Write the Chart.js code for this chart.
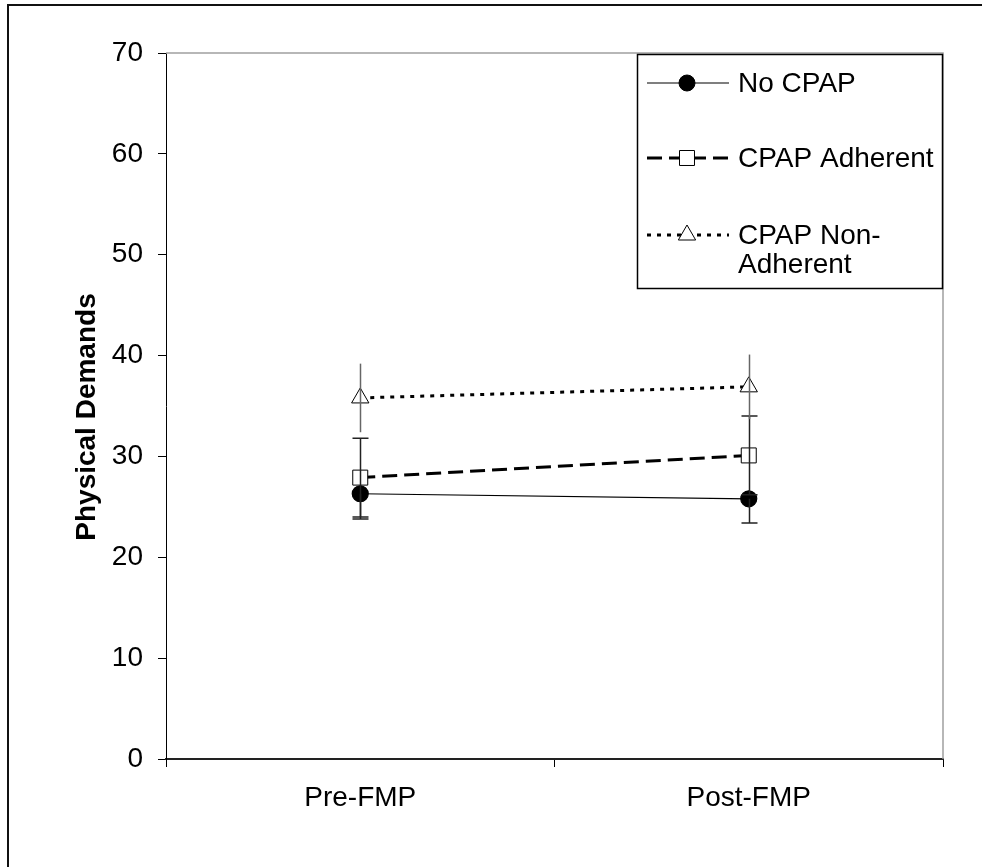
<!DOCTYPE html>
<html>
<head>
<meta charset="utf-8">
<script src="https://cdn.jsdelivr.net/npm/chart.js@4.4.0/dist/chart.umd.min.js"></script>
<style>
    html, body { margin: 0; padding: 0; background: #fff; }
    #contenedor { position: relative; width: 982px; height: 867px; overflow: hidden; }
    #marco { position: absolute; left: 7px; top: 4px; width: 1000px; height: 900px;
             border-left: 2px solid #111; border-top: 2px solid #111; pointer-events: none; }
</style>
</head>
<body>
<div id="contenedor">
    <canvas id="grafico"></canvas>
    <div id="marco"></div>
</div>
<script>
// Datos
const categorias = ['Pre-FMP', 'Post-FMP'];
const nombresSeries = ['No CPAP', 'CPAP Adherent', 'CPAP Non-Adherent'];
const noCpap = [26.3, 25.8];
const cpapAdherente = [27.9, 30.1];
const cpapNoAdherente = [35.8, 36.9];
const errorNoCpap = [2.5, 2.4];
const errorAdherente = [3.9, 3.9];
const errorNoAdherente = [3.4, 3.2];
const ticksY = [0, 10, 20, 30, 40, 50, 60, 70];
const etiquetasLeyenda = [['No CPAP'], ['CPAP Adherent'], ['CPAP Non-', 'Adherent']];
const tituloY = 'Physical Demands';

const fuente = "'Liberation Sans', Arial, sans-serif";
Chart.defaults.font.family = fuente;
Chart.defaults.color = '#000';

const errores = [errorNoCpap, errorAdherente, errorNoAdherente];
// No CPAP solo muestra la barra hacia abajo
const estiloError = [
    { color: '#222', cap: 8, arriba: false, abajo: true },
    { color: '#222', cap: 8, arriba: true, abajo: true },
    { color: '#666', cap: 0, arriba: true, abajo: true }
];

// Dibuja un marcador simple (círculo, cuadrado o triángulo)
const dibujarMarcador = (ctx, estilo, x, y, r, relleno) => {
    ctx.save();
    ctx.beginPath();
    if (estilo === 'circle') {
        ctx.arc(x, y, r, 0, Math.PI * 2);
    } else if (estilo === 'rect') {
        const s = r * Math.SQRT1_2;
        ctx.rect(x - s, y - s, 2 * s, 2 * s);
    } else {
        ctx.moveTo(x, y - r);
        ctx.lineTo(x + r * 0.866, y + r * 0.5);
        ctx.lineTo(x - r * 0.866, y + r * 0.5);
        ctx.closePath();
    }
    ctx.fillStyle = relleno;
    ctx.fill();
    ctx.lineWidth = 1;
    ctx.strokeStyle = '#000';
    ctx.setLineDash([]);
    ctx.stroke();
    ctx.restore();
};

// Barras de error
const pluginErrores = {
    id: 'barrasError',
    afterDatasetsDraw(chart) {
        const ctx = chart.ctx;
        const escalaY = chart.scales.y;
        chart.data.datasets.forEach((ds, i) => {
            const meta = chart.getDatasetMeta(i);
            const estilo = estiloError[i];
            meta.data.forEach((punto, j) => {
                const v = ds.data[j];
                const e = errores[i][j];
                const x = Math.round(punto.x) + 0.5;
                const yCentro = escalaY.getPixelForValue(v);
                const yArriba = estilo.arriba ? escalaY.getPixelForValue(v + e) : yCentro;
                const yAbajo = estilo.abajo ? escalaY.getPixelForValue(v - e) : yCentro;
                ctx.save();
                ctx.strokeStyle = estilo.color;
                ctx.lineWidth = 1.5;
                ctx.beginPath();
                ctx.moveTo(x, yArriba);
                ctx.lineTo(x, yAbajo);
                if (estilo.cap > 0) {
                    if (estilo.arriba) {
                        ctx.moveTo(x - estilo.cap, yArriba);
                        ctx.lineTo(x + estilo.cap, yArriba);
                    }
                    if (estilo.abajo) {
                        ctx.moveTo(x - estilo.cap, yAbajo);
                        ctx.lineTo(x + estilo.cap, yAbajo);
                    }
                }
                ctx.stroke();
                ctx.restore();
            });
        });
    }
};

// Borde gris del área de trazado, título del eje Y y leyenda
const pluginDecoracion = {
    id: 'decoracion',
    beforeDatasetsDraw(chart) {
        const { ctx, chartArea } = chart;
        ctx.save();
        ctx.strokeStyle = '#a0a0a0';
        ctx.lineWidth = 1.5;
        ctx.beginPath();
        ctx.moveTo(chartArea.left, chartArea.top);
        ctx.lineTo(chartArea.right, chartArea.top);
        ctx.lineTo(chartArea.right, chartArea.bottom);
        ctx.stroke();
        ctx.restore();
    },
    afterDraw(chart) {
        const ctx = chart.ctx;
        // título eje Y
        ctx.save();
        ctx.translate(87, 417);
        ctx.rotate(-Math.PI / 2);
        ctx.font = 'bold 28px ' + fuente;
        ctx.fillStyle = '#000';
        ctx.textAlign = 'center';
        ctx.textBaseline = 'middle';
        ctx.fillText(tituloY, 0, 0);
        ctx.restore();

        // leyenda
        ctx.save();
        ctx.fillStyle = '#fff';
        ctx.fillRect(637, 54, 305, 234);
        ctx.strokeStyle = '#000';
        ctx.lineWidth = 1.5;
        ctx.strokeRect(637.5, 54.5, 305, 234);
        const filas = [83, 158, 235];
        ctx.font = '28px ' + fuente;
        ctx.textBaseline = 'middle';
        ctx.textAlign = 'left';
        chart.data.datasets.forEach((ds, i) => {
            const y = filas[i];
            ctx.save();
            ctx.strokeStyle = ds.borderColor;
            ctx.lineWidth = ds.borderWidth;
            ctx.setLineDash(ds.borderDash || []);
            ctx.beginPath();
            ctx.moveTo(647, y);
            ctx.lineTo(729, y);
            ctx.stroke();
            ctx.restore();
            dibujarMarcador(ctx, ds.pointStyle, 687, y, ds.pointRadius, ds.pointBackgroundColor);
            ctx.fillStyle = '#000';
            etiquetasLeyenda[i].forEach((linea, k) => {
                ctx.fillText(linea, 738, y + 1 + k * 29);
            });
        });
        ctx.restore();
    }
};

const grafico = new Chart(document.getElementById('grafico').getContext('2d'), {
    type: 'line',
    data: {
        labels: categorias,
        datasets: [
            {
                label: nombresSeries[0],
                data: noCpap,
                borderColor: '#000',
                borderWidth: 1.2,
                pointStyle: 'circle',
                pointRadius: 8,
                pointBackgroundColor: '#000',
                pointBorderColor: '#000',
                tension: 0
            },
            {
                label: nombresSeries[1],
                data: cpapAdherente,
                borderColor: '#000',
                borderWidth: 3,
                borderDash: [15, 7],
                pointStyle: 'rect',
                pointRadius: 10.6,
                pointBackgroundColor: '#fff',
                pointBorderColor: '#000',
                pointBorderWidth: 1,
                tension: 0
            },
            {
                label: nombresSeries[2],
                data: cpapNoAdherente,
                borderColor: '#000',
                borderWidth: 3,
                borderDash: [4, 6],
                pointStyle: 'triangle',
                pointRadius: 10,
                pointBackgroundColor: '#fff',
                pointBorderColor: '#000',
                pointBorderWidth: 1,
                tension: 0
            }
        ]
    },
    options: {
        responsive: true,
        maintainAspectRatio: false,
        animation: false,
        layout: { padding: { top: 53, right: 39, bottom: 0, left: 0 } },
        plugins: {
            legend: { display: false },
            tooltip: { enabled: false }
        },
        scales: {
            x: {
                type: 'category',
                offset: true,
                afterFit: (escala) => { escala.height = 108; },
                border: { display: true, color: '#222', width: 2 },
                grid: { offset: true, drawOnChartArea: false, drawTicks: true, tickLength: 8, color: '#000' },
                ticks: { font: { size: 28 }, color: '#000', padding: 14, maxRotation: 0 }
            },
            y: {
                min: 0,
                max: 70,
                afterFit: (escala) => { escala.width = 166; },
                afterBuildTicks: (escala) => { escala.ticks = ticksY.map(v => ({ value: v })); },
                border: { display: true, color: '#000', width: 1 },
                grid: { drawOnChartArea: false, drawTicks: true, tickLength: 8, color: '#000' },
                ticks: { font: { size: 28 }, color: '#000', padding: 15 }
            }
        }
    },
    plugins: [pluginDecoracion, pluginErrores]
});
</script>
</body>
</html>
